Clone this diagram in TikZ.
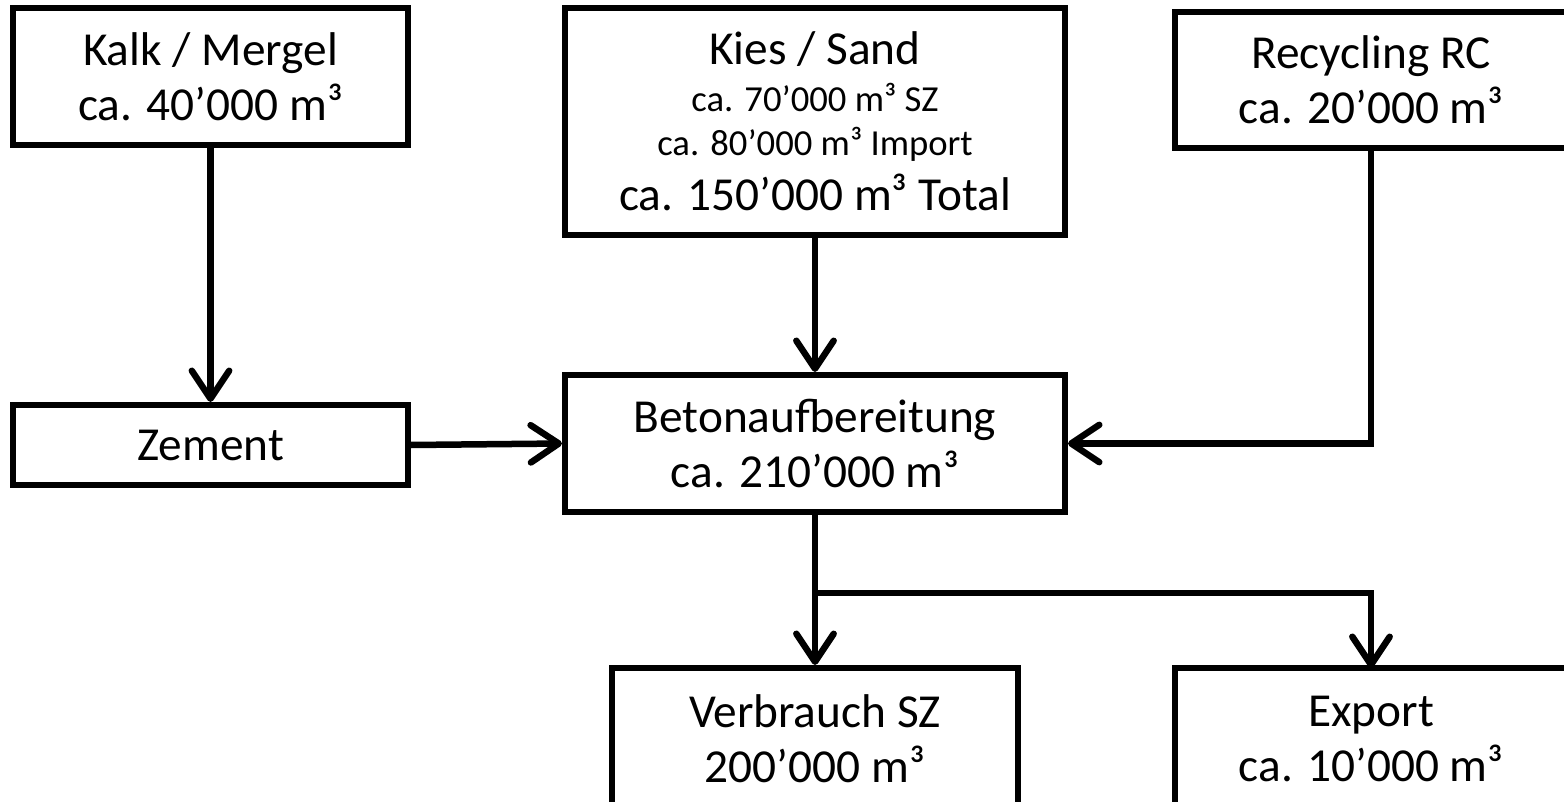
\documentclass[tikz,border=0pt]{standalone}
\usepackage{fontspec}
\setmainfont{Carlito}
\usetikzlibrary{arrows.meta}
\newdimen\px \px=0.75pt
\newcommand{\bigf}{\fontsize{35.5}{41.25}\selectfont}
\newcommand{\smf}{\fontsize{27.5}{30}\selectfont}
\begin{document}
\begin{tikzpicture}[x=0.75pt,y=-0.75pt,
  box/.style={draw, line width=6\px, fill=white, inner sep=0pt, align=center, font=\bigf},
  arr/.style={line width=6.5\px, -{Straight Barb[length=21pt,width=28pt,line cap=round,line join=round]}},
  conn/.style={line width=6.5\px}]
\path[use as bounding box] (0,0) rectangle (1564,802);
\clip (0,0) rectangle (1564,802);
\fill[white] (0,0) rectangle (1564,802);
\node[box, minimum width=395\px, minimum height=137\px] (kalk) at (210.5,76.5) {Kalk / Mergel\\ca. 40’000 m³};
\node[box, minimum width=500\px, minimum height=227\px] (kies) at (815,121.5) {Kies / Sand\\[-6pt]{\smf ca. 70’000 m³ SZ}\\[-8pt]{\smf ca. 80’000 m³ Import}\\ca. 150’000 m³ Total};
\node[box, minimum width=450\px, minimum height=136\px] (recyc) at (1400,80) {\hspace*{-58\px}Recycling RC\\\hspace*{-58\px}ca. 20’000 m³};
\node[box, minimum width=395\px, minimum height=80\px] (zement) at (210.5,445) {Zement};
\node[box, minimum width=500\px, minimum height=137\px] (beton) at (815,443.5) {Betonaufbereitung\\ca. 210’000 m³};
\node[box, minimum width=406\px, minimum height=142\px] (verb) at (815,739) {Verbrauch SZ\\200’000 m³};
\node[box, minimum width=450\px, minimum height=142\px] (export) at (1400,739) {\hspace*{-58\px}Export\\\hspace*{-58\px}ca. 10’000 m³};
\coordinate (split) at (815,593);
\coordinate (rdown) at (1371,148);
\coordinate (edown) at (1371,668);
\draw[arr] (kalk) -- (zement);
\draw[arr] (kies) -- (beton);
\draw[arr] (zement.east) -- (beton.west);
\draw[arr] (rdown) |- (beton.east);
\draw[arr] (beton.south) -- (verb.north);
\draw[arr] (split) -| (edown);
\end{tikzpicture}
\end{document}
